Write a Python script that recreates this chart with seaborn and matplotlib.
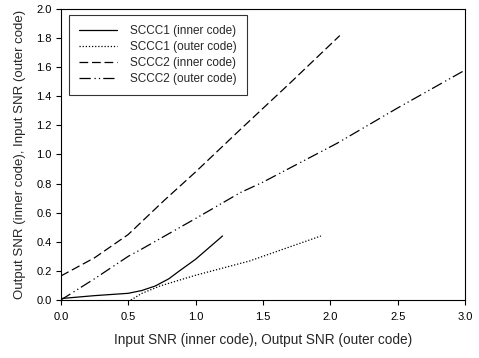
import matplotlib
matplotlib.use("Agg")
import matplotlib.pyplot as plt
import seaborn as sns
import pandas as pd

# Data
sccc1_inner_x = [0.0, 0.25, 0.5, 0.6, 0.7, 0.8, 0.88, 1.0, 1.1, 1.2]
sccc1_inner_y = [0.01, 0.03, 0.046, 0.065, 0.096, 0.145, 0.2, 0.28, 0.36, 0.44]

sccc1_outer_x = [0.52, 0.6, 0.735, 1.0, 1.4, 1.93]
sccc1_outer_y = [0.0, 0.045, 0.096, 0.17, 0.268, 0.44]

sccc2_inner_x = [0.0, 0.25, 0.5, 0.77, 1.0, 1.33, 1.7, 2.07]
sccc2_inner_y = [0.165, 0.29, 0.45, 0.687, 0.88, 1.17, 1.49, 1.817]

sccc2_outer_x = [0.0, 0.25, 0.5, 0.6, 1.0, 1.33, 1.5, 2.05, 2.5, 3.0]
sccc2_outer_y = [0.0, 0.146, 0.30, 0.35, 0.56, 0.737, 0.81, 1.077, 1.32, 1.58]

labels = ["SCCC1 (inner code)", "SCCC1 (outer code)", "SCCC2 (inner code)", "SCCC2 (outer code)"]
xs = [sccc1_inner_x, sccc1_outer_x, sccc2_inner_x, sccc2_outer_x]
ys = [sccc1_inner_y, sccc1_outer_y, sccc2_inner_y, sccc2_outer_y]

rows = []
for lab, x, y in zip(labels, xs, ys):
    for i, (a, b) in enumerate(zip(x, y)):
        rows.append({"series": lab, "x": a, "y": b, "order": i})
df = pd.DataFrame(rows)

sns.set_style("ticks")
plt.rcParams["font.family"] = ["Liberation Sans", "DejaVu Sans"]

fig = plt.figure(figsize=(4.79, 3.58), dpi=100)
ax = fig.add_axes([0.127, 0.162, 0.844, 0.813])

dashes = {
    labels[0]: "",
    labels[1]: (1, 1.5),
    labels[2]: (7, 3),
    labels[3]: (9, 3, 1, 2.5, 1, 2.5),
}
sns.lineplot(data=df, x="x", y="y", style="series", style_order=labels,
             dashes=dashes, color="black", linewidth=0.9, sort=False,
             estimator=None, ax=ax)

ax.set_xlim(0, 3.0)
ax.set_ylim(0, 2.0)
ax.set_xticks([0.0, 0.5, 1.0, 1.5, 2.0, 2.5, 3.0])
ax.set_yticks([0.0, 0.2, 0.4, 0.6, 0.8, 1.0, 1.2, 1.4, 1.6, 1.8, 2.0])
ax.set_xticklabels(["0.0", "0.5", "1.0", "1.5", "2.0", "2.5", "3.0"])
ax.set_yticklabels(["0.0", "0.2", "0.4", "0.6", "0.8", "1.0", "1.2", "1.4", "1.6", "1.8", "2.0"])
ax.tick_params(axis="both", labelsize=8, length=3.6, width=0.8, direction="out",
               colors="black")
ax.tick_params(axis="y", pad=3)
ax.tick_params(axis="x", pad=5)
for s in ax.spines.values():
    s.set_color("black")
    s.set_linewidth(0.8)

ax.set_xlabel("Input SNR (inner code), Output SNR (outer code)", fontsize=9.8, labelpad=8)
ax.set_ylabel("Output SNR (inner code), Input SNR (outer code)", fontsize=9.5, labelpad=7)

leg = ax.legend(loc="upper left", bbox_to_anchor=(0.02, 0.979), fontsize=8.5,
                handlelength=3.2, frameon=True, fancybox=False, edgecolor="black",
                borderpad=0.85, labelspacing=0.33, handletextpad=1.1, borderaxespad=0)
leg.get_frame().set_linewidth(0.8)

fig.savefig("out.png", dpi=100)
